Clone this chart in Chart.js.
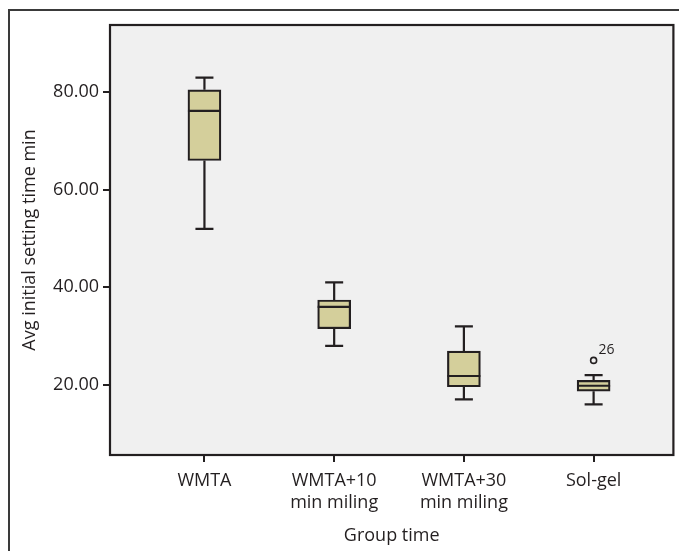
<!DOCTYPE html>
<html><head><meta charset="utf-8">
<script src="https://cdn.jsdelivr.net/npm/chart.js@4.4.0/dist/chart.umd.min.js"></script>
<style>html,body{margin:0;padding:0;background:#fff;}canvas{display:block;}</style>
</head><body>
<canvas id="c" width="679" height="551"></canvas>
<script>
const categories = [['WMTA'], ['WMTA+10', 'min miling'], ['WMTA+30', 'min miling'], ['Sol-gel']];
const whiskerLow = [52, 28, 17, 16];
const q1 = [66, 31.5, 19.6, 18.7];
const median = [76.2, 36, 21.8, 19.8];
const q3 = [80.5, 37.4, 26.9, 20.9];
const whiskerHigh = [83, 41, 32, 22];
const outlierCategory = [3];
const outlierValue = [25];
const outlierLabel = ['26'];
const yTicks = [20, 40, 60, 80];
const yTitle = 'Avg initial setting time min';
const xTitle = 'Group time';

const INK = '#231f20';
const FONT = 'Open Sans';

const boxPlugin = {
  id: 'boxParts',
  beforeDraw(chart) {
    const ctx = chart.ctx, a = chart.chartArea;
    ctx.save();
    ctx.fillStyle = '#fff';
    ctx.fillRect(0, 0, chart.width, chart.height);
    ctx.strokeStyle = '#3a3a3a';
    ctx.lineWidth = 2;
    ctx.beginPath();
    ctx.moveTo(9, chart.height);
    ctx.lineTo(9, 10);
    ctx.lineTo(chart.width, 10);
    ctx.stroke();
    ctx.fillStyle = '#f0f0f0';
    ctx.fillRect(a.left, a.top, a.right - a.left, a.bottom - a.top);
    ctx.restore();
  },
  beforeDatasetsDraw(chart) {
    const ctx = chart.ctx, ys = chart.scales.y;
    const meta = chart.getDatasetMeta(0);
    ctx.save();
    ctx.strokeStyle = INK;
    ctx.lineWidth = 2.2;
    meta.data.forEach((bar, i) => {
      const x = bar.x;
      const yLo = ys.getPixelForValue(whiskerLow[i]);
      const yHi = ys.getPixelForValue(whiskerHigh[i]);
      const yQ1 = ys.getPixelForValue(q1[i]);
      const yQ3 = ys.getPixelForValue(q3[i]);
      ctx.beginPath();
      ctx.moveTo(x, yQ3); ctx.lineTo(x, yHi);
      ctx.moveTo(x - 9, yHi); ctx.lineTo(x + 9, yHi);
      ctx.moveTo(x, yQ1); ctx.lineTo(x, yLo);
      ctx.moveTo(x - 9, yLo); ctx.lineTo(x + 9, yLo);
      ctx.stroke();
    });
    ctx.restore();
  },
  afterDatasetsDraw(chart) {
    const ctx = chart.ctx, ys = chart.scales.y, a = chart.chartArea;
    const meta = chart.getDatasetMeta(0);
    ctx.save();
    ctx.strokeStyle = INK;
    ctx.lineWidth = 2.2;
    meta.data.forEach((bar, i) => {
      const ym = ys.getPixelForValue(median[i]);
      ctx.beginPath();
      ctx.moveTo(bar.x - bar.width / 2, ym);
      ctx.lineTo(bar.x + bar.width / 2, ym);
      ctx.stroke();
    });
    ctx.strokeRect(a.left, a.top, a.right - a.left, a.bottom - a.top);
    const om = chart.getDatasetMeta(1);
    ctx.fillStyle = INK;
    ctx.font = '14px "' + FONT + '"';
    ctx.textAlign = 'left';
    ctx.textBaseline = 'alphabetic';
    om.data.forEach((pt, k) => {
      ctx.fillText(outlierLabel[k], pt.x + 5, pt.y - 6);
    });
    ctx.restore();
  }
};

new Chart(document.getElementById('c'), {
  type: 'bar',
  data: {
    datasets: [
      {
        type: 'bar',
        data: categories.map((c, i) => ({ x: i, y: [q1[i], q3[i]] })),
        backgroundColor: '#d4cf9b',
        borderColor: INK,
        borderWidth: 2.2,
        borderSkipped: false,
        barThickness: 33
      },
      {
        type: 'scatter',
        data: outlierCategory.map((c, k) => ({ x: c, y: outlierValue[k] })),
        pointRadius: 3,
        pointBorderWidth: 1.6,
        pointBackgroundColor: '#f0f0f0',
        pointBorderColor: INK
      }
    ]
  },
  options: {
    responsive: false,
    animation: false,
    layout: { padding: { top: 25, right: 2, left: 0, bottom: 0 } },
    plugins: { legend: { display: false }, tooltip: { enabled: false } },
    scales: {
      x: {
        type: 'linear',
        min: -0.728,
        max: 3.615,
        offset: false,
        afterBuildTicks: ax => { ax.ticks = categories.map((c, i) => ({ value: i })); },
        afterFit: s => { s.height = 96; },
        ticks: {
          callback: (v, i) => categories[i],
          font: { family: FONT, size: 18 },
          color: INK,
          padding: 8,
          maxRotation: 0,
          autoSkip: false
        },
        grid: { display: true, offset: false, drawOnChartArea: false, drawTicks: true, tickLength: 7, color: INK, lineWidth: 2 },
        border: { display: false },
        title: { display: true, text: xTitle, font: { family: FONT, size: 18 }, color: INK, padding: { top: 0, bottom: 4 } }
      },
      y: {
        type: 'linear',
        min: 5.6,
        max: 93.8,
        afterBuildTicks: ax => { ax.ticks = yTicks.map(v => ({ value: v })); },
        afterFit: s => { s.width = 110; },
        ticks: {
          callback: v => Number(v).toFixed(2),
          font: { family: FONT, size: 18 },
          color: INK,
          padding: 4
        },
        grid: { display: true, drawOnChartArea: false, drawTicks: true, tickLength: 7, color: INK, lineWidth: 2 },
        border: { display: false },
        title: { display: true, text: yTitle, font: { family: FONT, size: 18 }, color: INK, padding: { top: 19, bottom: 0 } }
      }
    }
  },
  plugins: [boxPlugin]
});
</script>
</body></html>
